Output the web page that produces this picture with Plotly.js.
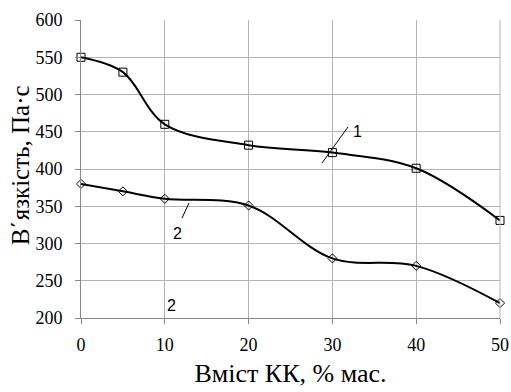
<!DOCTYPE html>
<html>
<head>
<meta charset="utf-8">
<script src="https://cdn.plot.ly/plotly-3.0.1.min.js"></script>
<style>html,body{margin:0;padding:0;background:#fff;}#chart{width:511px;height:392px;}</style>
</head>
<body>
<div id="chart"></div>
<script>
var contentKK = [0, 5, 10, 20, 30, 40, 50];
var viscosity1 = [550, 530, 460, 432, 422, 401, 331];
var viscosity2 = [380, 370, 360, 351, 280, 270, 220];
var xTicks = [0, 10, 20, 30, 40, 50];
var yTicks = [200, 250, 300, 350, 400, 450, 500, 550, 600];

var serif = 'Times New Roman';
var sans = 'Arial';

var traces = [
  {x: contentKK, y: viscosity1, mode: 'lines+markers', type: 'scatter', cliponaxis: false,
   line: {color: '#000', width: 2, shape: 'spline', smoothing: 1},
   marker: {symbol: 'square-open', size: 8, color: '#000', line: {width: 1}}},
  {x: contentKK, y: viscosity2, mode: 'lines+markers', type: 'scatter', cliponaxis: false,
   line: {color: '#000', width: 2, shape: 'spline', smoothing: 1},
   marker: {symbol: 'diamond-open', size: 7, color: '#000', line: {width: 1}}}
];

var layout = {
  width: 511, height: 392,
  margin: {l: 81, r: 11, t: 20, b: 74},
  paper_bgcolor: '#fff', plot_bgcolor: '#fff',
  showlegend: false,
  font: {family: serif, color: '#000'},
  xaxis: {
    range: [0, 50], tickvals: xTicks, ticktext: xTicks.map(String),
    showgrid: true, gridcolor: '#b3b3b3', gridwidth: 1,
    showline: true, linecolor: '#888', linewidth: 1,
    ticks: 'outside', ticklen: 5, tickcolor: '#888',
    ticklabelstandoff: 5,
    zeroline: false,
    tickfont: {family: serif, size: 18, color: '#000'},
    title: {text: 'Вміст КК, % мас.', font: {family: serif, size: 26, color: '#000'}, standoff: 10}
  },
  yaxis: {
    range: [200, 600], tickvals: yTicks, ticktext: yTicks.map(String),
    showgrid: true, gridcolor: '#b3b3b3', gridwidth: 1,
    showline: true, linecolor: '#888', linewidth: 1,
    ticks: 'outside', ticklen: 5, tickcolor: '#888',
    ticklabelstandoff: 9,
    zeroline: false,
    tickfont: {family: serif, size: 18, color: '#000'}
  },
  shapes: [
    {type: 'line', xref: 'x', yref: 'y', x0: 28.76, y0: 408, x1: 31.86, y1: 456.4, line: {color: '#000', width: 1}},
    {type: 'line', xref: 'x', yref: 'y', x0: 12.05, y0: 334, x1: 12.89, y1: 354.4, line: {color: '#000', width: 1}},
    {type: 'line', xref: 'paper', yref: 'paper', x0: 1, x1: 1, y0: 0, y1: 1, line: {color: '#b3b3b3', width: 1}}
  ],
  annotations: [
    {text: 'В΄язкість, Па·с', xref: 'paper', yref: 'paper', x: -0.145, y: 0.513, textangle: -90,
     showarrow: false, font: {family: serif, size: 25, color: '#000'}, xanchor: 'center', yanchor: 'middle'},
    {text: '1', xref: 'x', yref: 'y', x: 33.05, y: 451, showarrow: false, font: {family: sans, size: 16, color: '#000'}},
    {text: '2', xref: 'x', yref: 'y', x: 11.46, y: 314, showarrow: false, font: {family: sans, size: 16, color: '#000'}},
    {text: '2', xref: 'x', yref: 'y', x: 10.74, y: 217.4, showarrow: false, font: {family: sans, size: 16, color: '#000'}}
  ]
};

Plotly.newPlot('chart', traces, layout, {displayModeBar: false, staticPlot: true});
</script>
</body>
</html>
